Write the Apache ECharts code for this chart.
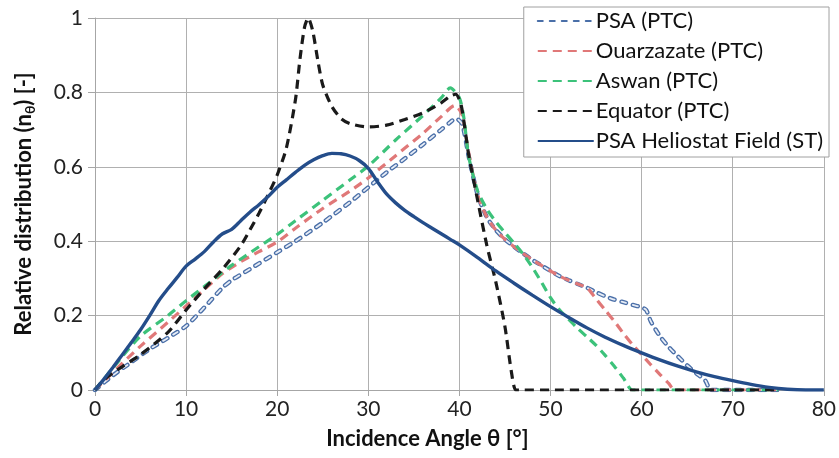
<!DOCTYPE html>
<html>
<head>
<meta charset="utf-8">
<script src="https://cdn.jsdelivr.net/npm/echarts@6/dist/echarts.min.js"></script>
<style>html,body{margin:0;padding:0;background:#fff}#c{width:839px;height:458px}</style>
</head>
<body>
<div id="c"></div>
<script>
// ---- data ----
const seriesNames = ['PSA (PTC)', 'Ouarzazate (PTC)', 'Aswan (PTC)', 'Equator (PTC)', 'PSA Heliostat Field (ST)'];

const psaX = [0, 2, 4, 6, 8, 10, 12, 14, 15, 17, 20, 22, 25, 28, 30, 32, 34, 36, 38, 39, 39.6, 40.3, 41, 42, 43, 44, 45, 46, 47, 48, 49, 50, 51, 52, 53, 54, 55, 56, 57, 58, 59, 60, 60.5, 61, 62, 63, 64, 65, 66, 67, 67.6, 70, 75];
const psaY = [0, 0.04, 0.075, 0.11, 0.14, 0.172, 0.222, 0.275, 0.295, 0.325, 0.37, 0.4, 0.45, 0.505, 0.545, 0.585, 0.622, 0.66, 0.7, 0.72, 0.73, 0.715, 0.63, 0.525, 0.465, 0.43, 0.405, 0.385, 0.367, 0.35, 0.335, 0.32, 0.306, 0.295, 0.285, 0.275, 0.263, 0.252, 0.243, 0.236, 0.229, 0.222, 0.215, 0.185, 0.145, 0.115, 0.09, 0.066, 0.045, 0.025, 0, 0, 0];

const ouarX = [0, 3, 5, 8, 10, 12, 14, 16, 18, 20, 22, 25, 28, 30, 33, 36, 38, 39.5, 40.3, 41, 42, 43, 44, 45, 46, 47, 48, 49, 50, 51, 52, 53, 54, 55, 56, 57, 58, 59, 60, 61, 62, 63, 63.6, 70, 75];
const ouarY = [0, 0.072, 0.118, 0.182, 0.226, 0.27, 0.313, 0.345, 0.372, 0.398, 0.435, 0.488, 0.535, 0.57, 0.63, 0.69, 0.735, 0.765, 0.74, 0.64, 0.525, 0.465, 0.43, 0.405, 0.385, 0.367, 0.35, 0.335, 0.32, 0.306, 0.295, 0.285, 0.275, 0.245, 0.215, 0.185, 0.152, 0.122, 0.095, 0.068, 0.042, 0.017, 0, 0, 0];

const aswanX = [0, 3, 5, 8, 10, 12, 15, 18, 20, 22, 25, 28, 30, 33, 36, 38, 39, 40, 40.5, 41, 42, 43, 44, 45, 46, 47, 48, 49, 50, 51, 52, 53, 54, 55, 56, 57, 58, 59, 65, 70, 75];
const aswanY = [0, 0.09, 0.145, 0.2, 0.24, 0.278, 0.335, 0.385, 0.418, 0.455, 0.51, 0.565, 0.602, 0.672, 0.738, 0.785, 0.812, 0.785, 0.73, 0.63, 0.535, 0.487, 0.452, 0.423, 0.395, 0.365, 0.33, 0.29, 0.248, 0.215, 0.19, 0.165, 0.143, 0.12, 0.093, 0.064, 0.032, 0, 0, 0, 0];

const equatorX = [0, 1, 3, 5, 8, 10, 12, 14, 16, 17, 18, 19, 20, 21, 22, 22.5, 23, 23.4, 23.9, 24.5, 25, 26, 27, 28, 30, 32, 34, 36, 38, 39, 39.6, 40.2, 41, 42, 43, 44, 45, 45.7, 46.2, 47, 50, 55, 60, 65, 70, 75];
const equatorY = [0, 0.028, 0.063, 0.095, 0.155, 0.215, 0.272, 0.325, 0.388, 0.43, 0.475, 0.525, 0.578, 0.65, 0.78, 0.89, 0.975, 1.0, 0.965, 0.88, 0.82, 0.762, 0.73, 0.716, 0.707, 0.712, 0.727, 0.745, 0.772, 0.79, 0.795, 0.765, 0.635, 0.51, 0.39, 0.29, 0.17, 0.05, 0, 0, 0, 0, 0, 0, 0, 0];

const helioX = [0, 1, 2, 3, 4, 5, 6, 7, 8, 9, 10, 11, 12, 13, 14, 15, 16, 17, 18, 19, 20, 21, 22, 23, 24, 25, 26, 27, 28, 29, 30, 31, 32, 33, 34, 35, 36, 37, 38, 39, 40, 42, 44, 46, 48, 50, 52, 54, 56, 58, 60, 62, 64, 66, 68, 70, 72, 74, 76, 78, 80];
const helioY = [0, 0.03, 0.062, 0.095, 0.128, 0.162, 0.2, 0.24, 0.272, 0.302, 0.333, 0.352, 0.372, 0.398, 0.42, 0.432, 0.455, 0.478, 0.498, 0.52, 0.545, 0.565, 0.585, 0.604, 0.619, 0.63, 0.636, 0.635, 0.629, 0.617, 0.596, 0.56, 0.527, 0.503, 0.483, 0.466, 0.45, 0.435, 0.42, 0.405, 0.39, 0.356, 0.32, 0.287, 0.255, 0.224, 0.195, 0.167, 0.142, 0.12, 0.1, 0.081, 0.064, 0.049, 0.036, 0.025, 0.015, 0.007, 0.002, 0, 0];

const xMin = 0, xMax = 80, xStep = 10;
const yMin = 0, yMax = 1, yStep = 0.2;

// ---- chart ----
const zip = (xs, ys) => xs.map((x, i) => [x, ys[i]]);
const FONT = 'Lato';
const chart = echarts.init(document.getElementById('c'), null, {renderer: 'canvas'});

const dashed = (name, data, color, width, dash, cap) => ({
  name, type: 'line', data, showSymbol: false, symbol: 'none', smooth: 0.25,
  lineStyle: {color, width, type: dash, cap: cap || 'butt'}, itemStyle: {color},
  emphasis: {disabled: true}, animation: false
});

chart.setOption({
  animation: false,
  grid: {left: 95, right: 14, top: 18, bottom: 68},
  legend: {
    data: seriesNames, orient: 'vertical', right: 10, top: 7,
    backgroundColor: '#fff', borderColor: '#a0a0a0', borderWidth: 1,
    padding: [3, 6, 5, 13], itemWidth: 56, itemHeight: 14, itemGap: 8,
    itemStyle: {color: 'rgba(0,0,0,0)', borderWidth: 0, opacity: 0},
    textStyle: {fontFamily: FONT, fontSize: 22, color: '#111', padding: [0, 0, 0, -3]},
    z: 10
  },
  xAxis: {
    type: 'value', min: xMin, max: xMax, interval: xStep,
    name: 'Incidence Angle θ [°]', nameLocation: 'middle', nameGap: 38,
    nameTextStyle: {fontFamily: FONT, fontSize: 22, fontWeight: 'bold', color: '#111', padding: [0, 64, 0, 0]},
    axisLine: {lineStyle: {color: '#a6a6a6', width: 1}},
    axisTick: {show: true, length: 6, lineStyle: {color: '#a6a6a6'}},
    axisLabel: {fontFamily: FONT, fontSize: 21, color: '#222', margin: 9},
    splitLine: {show: true, lineStyle: {color: '#b0b0b0', width: 1}}
  },
  yAxis: {
    type: 'value', min: yMin, max: yMax, interval: yStep,
    name: '{a|Relative distribution (n}{s|θ}{a|) [-]}', nameLocation: 'middle', nameGap: 58,
    nameTextStyle: {
      rich: {
        a: {fontFamily: FONT, fontSize: 22, fontWeight: 'bold', color: '#111', lineHeight: 26},
        s: {fontFamily: FONT, fontSize: 14, fontWeight: 'bold', color: '#111', lineHeight: 26, verticalAlign: 'bottom', padding: [9, 0, 0, 0]}
      }
    },
    axisLine: {show: true, lineStyle: {color: '#a6a6a6', width: 1}},
    axisTick: {show: true, length: 7, lineStyle: {color: '#a6a6a6'}},
    axisLabel: {fontFamily: FONT, fontSize: 21, color: '#222', margin: 12},
    splitLine: {show: true, lineStyle: {color: '#b0b0b0', width: 1}}
  },
  series: [
    dashed('PSA (PTC)', zip(psaX, psaY), '#4a6fa8', 4.4, [5, 7], 'round'),
    Object.assign(dashed('PSA inner', zip(psaX, psaY), '#e6ecf6', 1.8, [5, 7], 'round'), {legendHoverLink: false}),
    dashed('Ouarzazate (PTC)', zip(ouarX, ouarY), '#e07878', 3.2, [9, 6]),
    dashed('Aswan (PTC)', zip(aswanX, aswanY), '#3cc27a', 3.2, [9, 6]),
    dashed('Equator (PTC)', zip(equatorX, equatorY), '#1a1a1a', 3.2, [9, 6]),
    {
      name: 'PSA Heliostat Field (ST)', type: 'line', data: zip(helioX, helioY),
      showSymbol: false, symbol: 'none', smooth: 0.3,
      lineStyle: {color: '#244d8a', width: 3.4}, itemStyle: {color: '#244d8a'},
      emphasis: {disabled: true}, animation: false
    }
  ]
});
</script>
</body>
</html>
